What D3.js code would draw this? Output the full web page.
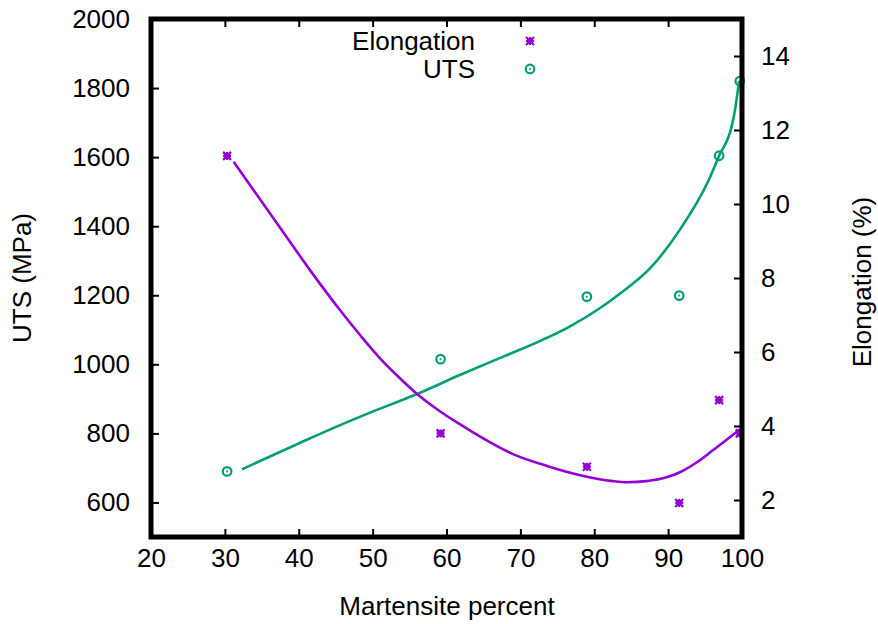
<!DOCTYPE html>
<html>
<head>
<meta charset="utf-8">
<script src="https://cdn.jsdelivr.net/npm/d3@7"></script>
<style>
  body { margin: 0; background: #fff; }
  text { font-family: "Liberation Sans", Arial, sans-serif; fill: #000; }
</style>
</head>
<body>
<script>
// measured points
var martensite = [30.3, 59.2, 79.0, 91.5, 96.9, 99.7];
var uts = [690, 1015, 1196, 1199, 1604, 1820];
var elongation = [11.3, 3.8, 2.9, 1.92, 4.7, 3.8];

// smoothed curves
var utsCurveX = [32.3, 40.2, 45.6, 50.0, 55.7, 61.8, 67.2, 72.7, 76.3, 80.8, 83.5, 87.6, 91.6, 95.5, 96.9, 98.6, 99.05, 99.6];
var utsCurveY = [696, 773, 824, 863, 911, 969, 1018, 1068, 1105, 1163, 1205, 1279, 1390, 1534, 1604, 1689, 1736, 1820];
var elCurveX = [31.2, 33.8, 37.5, 41.5, 45.6, 48.3, 51.0, 53.7, 55.7, 59.1, 61.8, 64.5, 69.0, 73.6, 78.1, 82.5, 84.4, 87.1, 89.9, 91.6, 93.9, 96.1, 98.4, 99.7];
var elCurveY = [11.14, 10.4, 9.35, 8.22, 7.13, 6.46, 5.83, 5.29, 4.92, 4.40, 4.05, 3.72, 3.24, 2.92, 2.67, 2.51, 2.48, 2.51, 2.62, 2.75, 3.02, 3.35, 3.70, 3.91];

var xTicks = [20, 30, 40, 50, 60, 70, 80, 90, 100];
var yTicks = [600, 800, 1000, 1200, 1400, 1600, 1800, 2000];
var y2Ticks = [2, 4, 6, 8, 10, 12, 14];

var purple = '#9400d3';
var green = '#009e73';

var W = 878, H = 624;
var margin = {top: 19, right: 136, bottom: 87, left: 151};
var w = W - margin.left - margin.right;
var h = H - margin.top - margin.bottom;

var svg = d3.select('body').append('svg')
            .attr('width', W)
            .attr('height', H);

var xScale = d3.scaleLinear().domain([20, 100]).range([0, w]);
var yScale = d3.scaleLinear().domain([500, 2000]).range([h, 0]);
var y2Scale = d3.scaleLinear().domain([1, 15]).range([h, 0]);

var focus = svg.append('g')
               .attr('transform', 'translate(' + margin.left + ',' + margin.top + ')');

// axes, ticks pointing inward
var fs = 26;
var fmt = d3.format('d');
var xAxis = focus.append('g').attr('transform', 'translate(0,' + h + ')')
     .call(d3.axisBottom(xScale).tickValues(xTicks).tickFormat(fmt).tickSize(-8).tickPadding(30));
var xTop = focus.append('g')
     .call(d3.axisTop(xScale).tickValues(xTicks).tickSize(-8).tickFormat(''));
var yAxis = focus.append('g')
     .call(d3.axisLeft(yScale).tickValues(yTicks).tickFormat(fmt).tickSize(-8).tickPadding(21));
var y2Axis = focus.append('g').attr('transform', 'translate(' + w + ',0)')
     .call(d3.axisRight(y2Scale).tickValues(y2Ticks).tickFormat(fmt).tickSize(-8).tickPadding(19));

[xAxis, xTop, yAxis, y2Axis].forEach(function(a) {
  a.select('.domain').remove();
  a.selectAll('.tick line').attr('stroke', '#000').attr('stroke-width', 2);
  a.selectAll('.tick text').style('font-size', fs + 'px').style('font-family', '"Liberation Sans", Arial, sans-serif');
});
xAxis.selectAll('.tick text').attr('dy', '0');

// curves
var utsLine = d3.line()
    .x(function(d) { return xScale(d[0]); })
    .y(function(d) { return yScale(d[1]); })
    .curve(d3.curveMonotoneX);
var elLine = d3.line()
    .x(function(d) { return xScale(d[0]); })
    .y(function(d) { return y2Scale(d[1]); })
    .curve(d3.curveMonotoneX);

focus.append('path')
     .datum(utsCurveX.map(function(x, i) { return [x, utsCurveY[i]]; }))
     .attr('d', utsLine)
     .attr('fill', 'none')
     .attr('stroke', green)
     .attr('stroke-width', 2.6);

focus.append('path')
     .datum(elCurveX.map(function(x, i) { return [x, elCurveY[i]]; }))
     .attr('d', elLine)
     .attr('fill', 'none')
     .attr('stroke', purple)
     .attr('stroke-width', 2.6);

// markers
function starMark(g, cx, cy) {
  var s = 4;
  g.append('path')
   .attr('d', 'M' + (cx - s) + ',' + cy + 'H' + (cx + s) +
              'M' + cx + ',' + (cy - s) + 'V' + (cy + s) +
              'M' + (cx - s) + ',' + (cy - s) + 'L' + (cx + s) + ',' + (cy + s) +
              'M' + (cx - s) + ',' + (cy + s) + 'L' + (cx + s) + ',' + (cy - s))
   .attr('stroke', purple)
   .attr('stroke-width', 2.2)
   .attr('fill', 'none');
  g.append('rect')
   .attr('x', cx - 3).attr('y', cy - 3).attr('width', 6).attr('height', 6)
   .attr('fill', purple);
}
function circleMark(g, cx, cy) {
  g.append('circle').attr('cx', cx).attr('cy', cy).attr('r', 4.3)
   .attr('fill', 'none').attr('stroke', green).attr('stroke-width', 2.2);
  g.append('circle').attr('cx', cx).attr('cy', cy).attr('r', 1)
   .attr('fill', green);
}

var marks = focus.append('g');
martensite.forEach(function(x, i) {
  circleMark(marks, xScale(x), yScale(uts[i]));
  starMark(marks, xScale(x), y2Scale(elongation[i]));
});

// border
focus.append('rect')
     .attr('x', 0).attr('y', 0).attr('width', w).attr('height', h)
     .attr('fill', 'none').attr('stroke', '#000').attr('stroke-width', 5);

// legend
var legend = svg.append('g');
legend.append('text').attr('x', 475).attr('y', 50).attr('text-anchor', 'end')
      .style('font-size', fs + 'px').text('Elongation');
legend.append('text').attr('x', 475).attr('y', 78).attr('text-anchor', 'end')
      .style('font-size', fs + 'px').text('UTS');
starMark(legend, 530, 41);
circleMark(legend, 530, 69);

// titles
svg.append('text')
   .attr('text-anchor', 'middle')
   .attr('transform', 'translate(447,615)')
   .style('font-size', fs + 'px')
   .text('Martensite percent');
svg.append('text')
   .attr('text-anchor', 'middle')
   .attr('transform', 'translate(31,278)rotate(-90)')
   .style('font-size', fs + 'px')
   .text('UTS (MPa)');
svg.append('text')
   .attr('text-anchor', 'middle')
   .attr('transform', 'translate(871,282)rotate(-90)')
   .style('font-size', fs + 'px')
   .text('Elongation (%)');
</script>
</body>
</html>
